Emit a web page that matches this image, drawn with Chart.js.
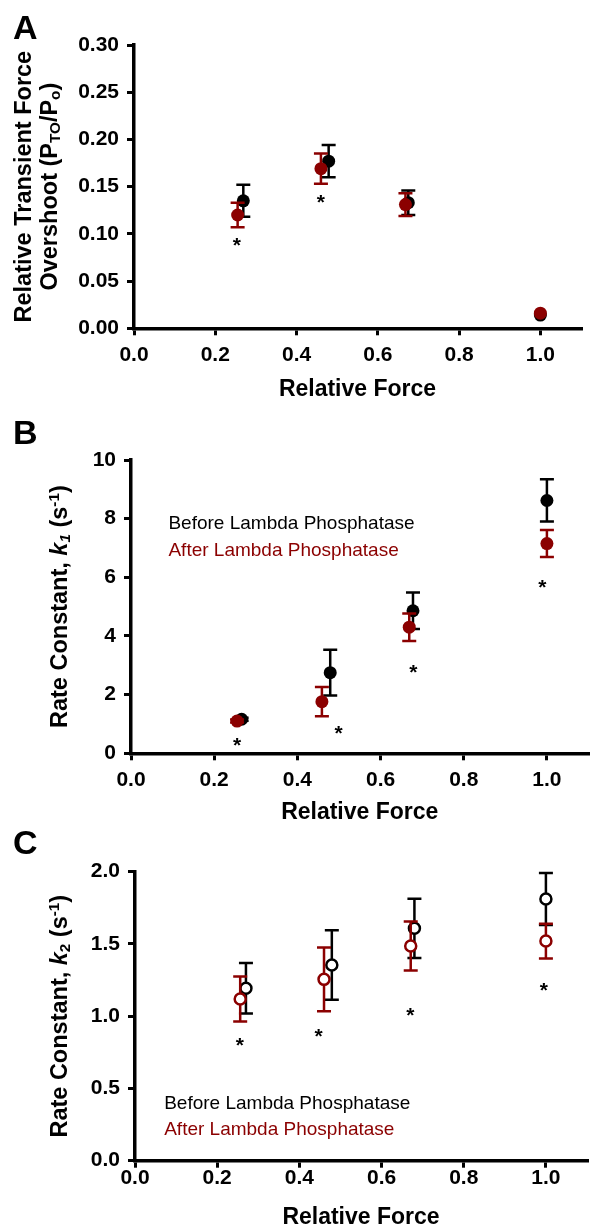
<!DOCTYPE html>
<html>
<head>
<meta charset="utf-8">
<script src="https://cdn.jsdelivr.net/npm/chart.js@4.4.1/dist/chart.umd.min.js"></script>
<style>
  html, body { margin: 0; padding: 0; background: #fff; }
  #wrap { position: relative; width: 595px; height: 1230px; overflow: hidden; background: #fff; }
  canvas { position: absolute; left: 0; }
</style>
</head>
<body>
<div id="wrap">
  <canvas id="chartA" width="595" height="410" style="top:0px"></canvas>
  <canvas id="chartB" width="595" height="420" style="top:410px"></canvas>
  <canvas id="chartC" width="595" height="400" style="top:830px"></canvas>
</div>
<script>
// ---- data ----
const xTickValues = [0, 0.2, 0.4, 0.6, 0.8, 1.0];
const yTicksA = [0, 0.05, 0.1, 0.15, 0.2, 0.25, 0.3];
const yTicksB = [0, 2, 4, 6, 8, 10];
const yTicksC = [0, 0.5, 1.0, 1.5, 2.0];

// A: relative transient force overshoot
const aBeforeX = [0.269, 0.479, 0.675, 1.0];
const aBeforeY = [0.135, 0.177, 0.133, 0.014];
const aBeforeErr = [0.017, 0.017, 0.013, 0];
const aAfterX = [0.255, 0.46, 0.668, 1.0];
const aAfterY = [0.12, 0.169, 0.131, 0.016];
const aAfterErr = [0.013, 0.016, 0.012, 0];
const aStarX = [0.253, 0.46];
const aStarY = [0.093, 0.139];

// B: rate constant k1
const bBeforeX = [0.266, 0.479, 0.678, 1.0];
const bBeforeY = [1.16, 2.75, 4.86, 8.62];
const bBeforeErr = [0.05, 0.78, 0.62, 0.72];
const bAfterX = [0.255, 0.459, 0.669, 1.0];
const bAfterY = [1.1, 1.76, 4.3, 7.15];
const bAfterErr = [0.05, 0.5, 0.47, 0.46];
const bStarX = [0.255, 0.499, 0.679, 0.989];
const bStarY = [0.45, 0.85, 2.95, 5.85];

// C: rate constant k2
const cBeforeX = [0.27, 0.479, 0.68, 1.0];
const cBeforeY = [1.193, 1.354, 1.608, 1.811];
const cBeforeErr = [0.175, 0.24, 0.205, 0.18];
const cAfterX = [0.256, 0.46, 0.671, 1.0];
const cAfterY = [1.119, 1.255, 1.486, 1.52];
const cAfterErr = [0.155, 0.22, 0.17, 0.12];
const cStarX = [0.255, 0.447, 0.67, 0.995];
const cStarY = [0.835, 0.897, 1.043, 1.216];

const legendLabels = ["Before Lambda Phosphatase", "After Lambda Phosphatase"];

const FONT = "'Liberation Sans', Arial, Helvetica, sans-serif";
const BLACK = "#000000";
const RED = "#8b0000";

function pts(xs, ys) {
  return xs.map((x, i) => ({ x: x, y: ys[i] }));
}

// draw text made of parts (italic / sub / sup), centered on 0,0
function drawRich(ctx, parts, size) {
  let total = 0;
  const items = parts.map((p) => {
    const s = p.sub || p.sup ? size * 0.65 : size;
    const f = (p.it ? "italic " : "") + "bold " + s + "px " + FONT;
    ctx.font = f;
    const w = ctx.measureText(p.t).width;
    total += w;
    return { p: p, f: f, w: w };
  });
  let x = -total / 2;
  items.forEach((item) => {
    ctx.font = item.f;
    const dy = item.p.sub ? size * 0.22 : item.p.sup ? -size * 0.26 : 0;
    ctx.fillText(item.p.t, x, dy);
    x += item.w;
  });
}

// error bars go under each dataset's own points
const errorBars = {
  id: "errorBars",
  beforeDatasetDraw(chart, args) {
    const ds = chart.data.datasets[args.index];
    if (!ds.err) return;
    const ctx = chart.ctx;
    const xs = chart.scales.x;
    const ys = chart.scales.y;
    ctx.save();
    ctx.strokeStyle = ds.borderColor;
    ctx.lineWidth = 2.5;
    ds.data.forEach((d, i) => {
      const e = ds.err[i];
      if (!e) return;
      const px = xs.getPixelForValue(d.x);
      const top = ys.getPixelForValue(d.y + e);
      const bot = ys.getPixelForValue(d.y - e);
      ctx.beginPath();
      ctx.moveTo(px, top);
      ctx.lineTo(px, bot);
      ctx.moveTo(px - 7, top);
      ctx.lineTo(px + 7, top);
      ctx.moveTo(px - 7, bot);
      ctx.lineTo(px + 7, bot);
      ctx.stroke();
    });
    ctx.restore();
  },
};

// stars, legend text, y titles and panel letters
const decorations = {
  id: "decorations",
  afterDraw(chart) {
    const p = chart.options.plugins.decorations;
    const ctx = chart.ctx;
    const xs = chart.scales.x;
    const ys = chart.scales.y;
    const area = chart.chartArea;
    ctx.save();

    // significance stars
    ctx.fillStyle = BLACK;
    ctx.font = "bold 21px " + FONT;
    ctx.textAlign = "center";
    ctx.textBaseline = "alphabetic";
    p.starX.forEach((sx, i) => {
      ctx.fillText("*", xs.getPixelForValue(sx), ys.getPixelForValue(p.starY[i]) + 12);
    });

    // legend text
    if (p.legend) {
      ctx.font = "19px " + FONT;
      ctx.textAlign = "left";
      ctx.textBaseline = "middle";
      p.legend.forEach((l, i) => {
        ctx.fillStyle = i === 0 ? BLACK : RED;
        ctx.fillText(legendLabels[i], xs.getPixelForValue(l.x), ys.getPixelForValue(l.y));
      });
    }

    // rotated y-axis title
    ctx.fillStyle = BLACK;
    ctx.textAlign = "left";
    ctx.textBaseline = "middle";
    const cy = (area.top + area.bottom) / 2;
    p.yTitle.forEach((line, i) => {
      ctx.save();
      ctx.translate(p.yTitleX[i], cy);
      ctx.rotate(-Math.PI / 2);
      drawRich(ctx, line, 23.5);
      ctx.restore();
    });

    // panel letter
    ctx.font = "bold 34px " + FONT;
    ctx.textAlign = "left";
    ctx.textBaseline = "alphabetic";
    ctx.fillText(p.letter, 13, p.letterY);
    ctx.restore();
  },
};

function makeChart(id, cfg) {
  const a = cfg.area;
  const xAxisH = cfg.xTitleY + 11.5 - a.bottom;
  const padBottom = cfg.canvasH - a.bottom - xAxisH;
  const tickFont = { family: FONT, size: 21, weight: "bold", lineHeight: 1 };
  const gridOpts = { drawOnChartArea: false, drawTicks: true, tickLength: 7, lineWidth: 3, color: BLACK };
  const borderOpts = { display: true, color: BLACK, width: 3.5 };

  const datasets = [
    {
      label: legendLabels[1],
      data: cfg.after,
      err: cfg.afterErr,
      backgroundColor: cfg.open ? "#ffffff" : RED,
      borderColor: RED,
      borderWidth: cfg.open ? 2.5 : 0,
      pointRadius: cfg.open ? 5.5 : 6.5,
    },
    {
      label: legendLabels[0],
      data: cfg.before,
      err: cfg.beforeErr,
      backgroundColor: cfg.open ? "#ffffff" : BLACK,
      borderColor: BLACK,
      borderWidth: cfg.open ? 2.5 : 0,
      pointRadius: cfg.open ? 5.5 : 6.5,
    },
  ];

  return new Chart(document.getElementById(id).getContext("2d"), {
    type: "scatter",
    data: { datasets: datasets },
    options: {
      responsive: false,
      animation: false,
      devicePixelRatio: 1,
      events: [],
      layout: {
        padding: { left: 0, top: a.top, right: 595 - a.right, bottom: padBottom },
      },
      scales: {
        x: {
          type: "linear",
          min: 0,
          max: 1.1,
          afterFit: (s) => { s.height = xAxisH; },
          afterBuildTicks: (s) => { s.ticks = xTickValues.map((v) => ({ value: v })); },
          ticks: {
            callback: (v) => Number(v).toFixed(1),
            color: BLACK,
            font: tickFont,
            padding: cfg.xPad,
            autoSkip: false,
            maxRotation: 0,
          },
          grid: gridOpts,
          border: borderOpts,
          title: {
            display: true,
            text: "Relative Force",
            color: BLACK,
            font: { family: FONT, size: 23, weight: "bold", lineHeight: 1 },
            padding: 0,
          },
        },
        y: {
          type: "linear",
          min: cfg.yTicks[0],
          max: cfg.yTicks[cfg.yTicks.length - 1],
          afterFit: (s) => { s.width = a.left; },
          afterBuildTicks: (s) => { s.ticks = cfg.yTicks.map((v) => ({ value: v })); },
          ticks: {
            callback: (v) => Number(v).toFixed(cfg.yDec),
            color: BLACK,
            font: tickFont,
            padding: 8,
            autoSkip: false,
          },
          grid: gridOpts,
          border: borderOpts,
        },
      },
      plugins: {
        legend: { display: false },
        tooltip: { enabled: false },
        decorations: {
          starX: cfg.starX,
          starY: cfg.starY,
          legend: cfg.legend,
          yTitle: cfg.yTitle,
          yTitleX: cfg.yTitleX,
          letter: cfg.letter,
          letterY: cfg.letterY,
        },
      },
    },
    plugins: [errorBars, decorations],
  });
}

makeChart("chartA", {
  canvasH: 410,
  area: { left: 134, right: 581, top: 45, bottom: 328.3 },
  xTitleY: 390,
  xPad: 9.5,
  yTicks: yTicksA,
  yDec: 2,
  before: pts(aBeforeX, aBeforeY),
  beforeErr: aBeforeErr,
  after: pts(aAfterX, aAfterY),
  afterErr: aAfterErr,
  open: false,
  starX: aStarX,
  starY: aStarY,
  legend: null,
  yTitle: [
    [{ t: "Relative Transient Force" }],
    [{ t: "Overshoot (P" }, { t: "TO", sub: true }, { t: "/P" }, { t: "o", sub: true }, { t: ")" }],
  ],
  yTitleX: [25, 51],
  letter: "A",
  letterY: 39,
});

makeChart("chartB", {
  canvasH: 420,
  area: { left: 131, right: 593, top: 50, bottom: 343.3 },
  xTitleY: 403,
  xPad: 9.2,
  yTicks: yTicksB,
  yDec: 0,
  before: pts(bBeforeX, bBeforeY),
  beforeErr: bBeforeErr,
  after: pts(bAfterX, bAfterY),
  afterErr: bAfterErr,
  open: false,
  starX: bStarX,
  starY: bStarY,
  legend: [{ x: 0.09, y: 7.82 }, { x: 0.09, y: 6.91 }],
  yTitle: [
    [{ t: "Rate Constant, " }, { t: "k", it: true }, { t: "1", sub: true, it: true }, { t: " (s" }, { t: "-1", sup: true }, { t: ")" }],
  ],
  yTitleX: [60.7],
  letter: "B",
  letterY: 34,
});

makeChart("chartC", {
  canvasH: 400,
  area: { left: 135, right: 591.5, top: 41.7, bottom: 330.7 },
  xTitleY: 388,
  xPad: 0.2,
  yTicks: yTicksC,
  yDec: 1,
  before: pts(cBeforeX, cBeforeY),
  beforeErr: cBeforeErr,
  after: pts(cAfterX, cAfterY),
  afterErr: cAfterErr,
  open: true,
  starX: cStarX,
  starY: cStarY,
  legend: [{ x: 0.071, y: 0.397 }, { x: 0.071, y: 0.212 }],
  yTitle: [
    [{ t: "Rate Constant, " }, { t: "k", it: true }, { t: "2", sub: true }, { t: " (s" }, { t: "-1", sup: true }, { t: ")" }],
  ],
  yTitleX: [60.7],
  letter: "C",
  letterY: 24,
});
</script>
</body>
</html>
